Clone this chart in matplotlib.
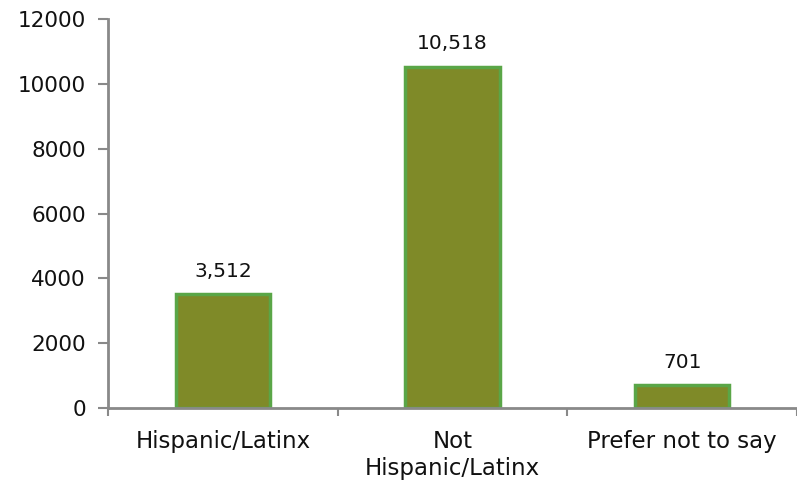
import matplotlib.pyplot as plt

categories = ['Hispanic/Latinx', 'Not\nHispanic/Latinx', 'Prefer not to say']
counts = [3512, 10518, 701]

fig = plt.figure(figsize=(7.97, 4.88), dpi=100)
ax = fig.add_axes([0.1355, 0.164, 0.8645, 0.797])

x = range(len(categories))
ax.bar(x, counts, width=0.41, color='#7f8a28', edgecolor='#5aa647', linewidth=2.5)

for xi, v in zip(x, counts):
    ax.text(xi, v + 420, f'{v:,}', ha='center', va='bottom', fontsize=14.5, family='DejaVu Sans', color='#111111')

ax.set_xlim(-0.5, 2.5)
ax.set_ylim(0, 12000)
ax.set_yticks(range(0, 12001, 2000))
ax.set_xticks([-0.5, 0.5, 1.5, 2.5], minor=False)
ax.set_xticklabels([])
ax.set_xticks(list(x), minor=True)
ax.set_xticklabels(categories, minor=True, fontsize=16.5, family='DejaVu Sans', color='#111111',
                   linespacing=1.2)
ax.tick_params(axis='x', which='minor', length=0, pad=16)
ax.tick_params(axis='x', which='major', length=6, width=1.5, color='#898989')
ax.tick_params(axis='y', length=7, width=1.5, color='#898989', pad=9, labelsize=15.5)
for lbl in ax.get_yticklabels():
    lbl.set_family('DejaVu Sans')
    lbl.set_color('#111111')

for s in ['top', 'right']:
    ax.spines[s].set_visible(False)
for s in ['left', 'bottom']:
    ax.spines[s].set_color('#898989')
    ax.spines[s].set_linewidth(2)

fig.savefig('out.png', dpi=100)
